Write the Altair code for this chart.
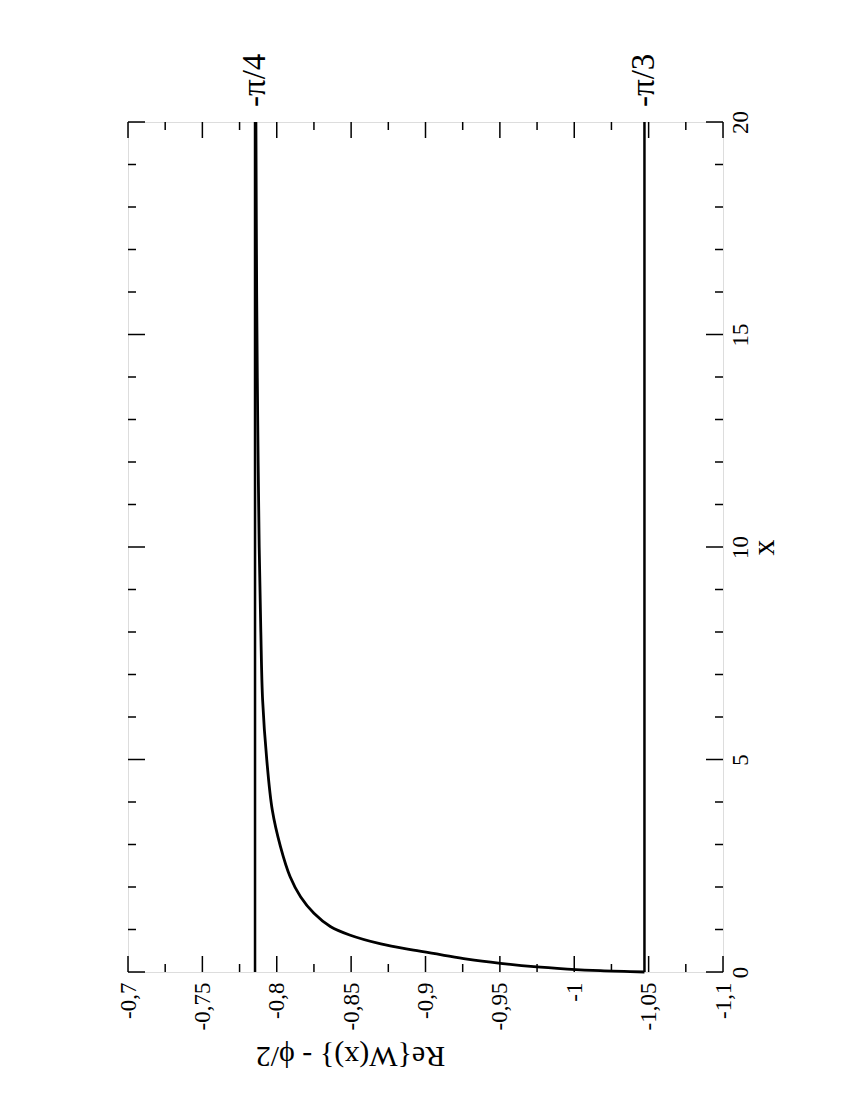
import math
import altair as alt
import pandas as pd

# ---- data ----
x_vals = [0.0, 0.03, 0.07, 0.125, 0.205, 0.305, 0.41, 0.515, 0.66, 0.87, 1.07,
          1.38, 1.77, 2.24, 2.95, 3.81, 4.99, 6.4, 8.0, 10.0, 13.0, 16.0, 20.0]
re_vals = [-1.0472, -1.0176, -0.9953, -0.9728, -0.9504, -0.928, -0.910, -0.892,
           -0.870, -0.849, -0.836, -0.825, -0.816, -0.809, -0.8025, -0.797,
           -0.7933, -0.7905, -0.7893, -0.7882, -0.7872, -0.7865, -0.786]

ref_values = [-math.pi / 4, -math.pi / 3]
ref_labels = ["-π/4", "-π/3"]

re_major = [-0.7, -0.75, -0.8, -0.85, -0.9, -0.95, -1.0, -1.05, -1.1]
re_minor = [-0.725, -0.775, -0.825, -0.875, -0.925, -0.975, -1.025, -1.075]
x_major = [0, 5, 10, 15, 20]
x_minor = [1, 2, 3, 4, 6, 7, 8, 9, 11, 12, 13, 14, 16, 17, 18, 19]

W, H = 595, 850
FONT = "Liberation Serif"

curve_df = pd.DataFrame({"x": x_vals, "re": re_vals})
ref_df = pd.DataFrame({"re": ref_values, "label": ref_labels})
re_major_df = pd.DataFrame({"re": re_major})
re_minor_df = pd.DataFrame({"re": re_minor})
x_major_df = pd.DataFrame({"x": x_major})
x_minor_df = pd.DataFrame({"x": x_minor})

re_scale = alt.Scale(domain=[-1.1, -0.7], reverse=True, nice=False, zero=False)
x_scale = alt.Scale(domain=[0, 20], nice=False, zero=False)

re_axis = alt.Axis(
    values=re_major,
    labelExpr="replace(toString(datum.value), '.', ',')",
    ticks=False, domain=False, grid=False,
    labelAngle=270, labelAlign="right", labelBaseline="middle",
    labelPadding=10, labelFont=FONT, labelFontSize=23, labelColor="black",
    labelFlush=False, labelOverlap=False,
    title="Re{W(x)} - ϕ/2", titleFont=FONT, titleFontSize=30,
    titleFontWeight="normal", titleColor="black", titleAngle=180,
    titleAlign="center", titleBaseline="middle", titleX=222, titleY=83,
)
x_axis = alt.Axis(
    orient="right", values=x_major,
    ticks=False, domain=False, grid=False,
    labelAngle=270, labelAlign="center", labelBaseline="top",
    labelPadding=6, labelFont=FONT, labelFontSize=23, labelColor="black",
    labelFlush=False, labelOverlap=False,
    title="x", titleFont=FONT, titleFontSize=32, titleFontWeight="normal",
    titleColor="black", titleAngle=270, titleAlign="center",
    titleBaseline="middle", titleX=40, titleY=425,
)

X_ENC = alt.X("re:Q", scale=re_scale, axis=re_axis)
Y_ENC = alt.Y("x:Q", scale=x_scale, axis=x_axis)

curve = alt.Chart(curve_df).mark_line(
    color="black", strokeWidth=2.8, interpolate="catmull-rom"
).encode(
    x=X_ENC,
    y=Y_ENC,
    order=alt.Order("x:Q"),
)

ref_lines = alt.Chart(ref_df).mark_rule(color="black", strokeWidth=2.5).encode(
    x=X_ENC,
)

ref_text = alt.Chart(ref_df).mark_text(
    font=FONT, fontSize=33, color="black", angle=270,
    align="left", baseline="middle",
).encode(
    x=X_ENC,
    y=alt.value(-15),
    text="label:N",
)

def re_ticks(df, y0, y1):
    return alt.Chart(df).mark_rule(color="black", strokeWidth=1.5).encode(
        x=X_ENC,
        y=alt.value(y0), y2=alt.value(y1),
    )

def x_ticks(df, x0, x1):
    return alt.Chart(df).mark_rule(color="black", strokeWidth=1.5).encode(
        y=Y_ENC,
        x=alt.value(x0), x2=alt.value(x1),
    )

layers = [
    curve,
    re_ticks(re_major_df, H, H - 16), re_ticks(re_minor_df, H, H - 8),
    re_ticks(re_major_df, 0, 16), re_ticks(re_minor_df, 0, 8),
    x_ticks(x_major_df, 0, 17), x_ticks(x_minor_df, 0, 8),
    x_ticks(x_major_df, W, W - 17), x_ticks(x_minor_df, W, W - 8),
    ref_lines, ref_text,
]

chart = alt.layer(*layers).properties(
    width=W, height=H,
    autosize=alt.AutoSizeParams(type="none"),
    padding={"left": 120, "top": 114, "right": 100, "bottom": 125},
).configure_view(
    stroke="black", strokeWidth=2,
).configure(background="white")

chart.save("out.html", embed_options={"renderer": "svg", "actions": False})
